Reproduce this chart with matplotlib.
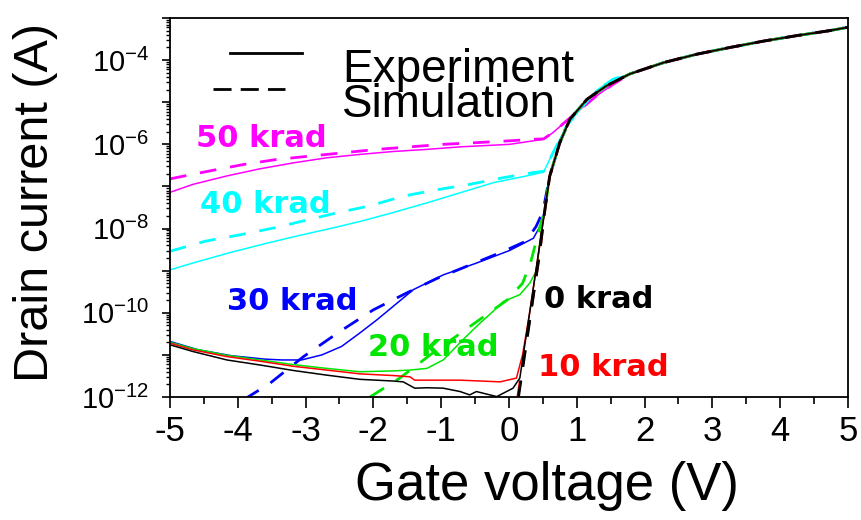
import numpy as np
import matplotlib
matplotlib.use('Agg')
import matplotlib.pyplot as plt
from matplotlib.ticker import MultipleLocator, LogLocator, NullFormatter, FuncFormatter

plt.rcParams['font.family'] = ['Liberation Sans', 'DejaVu Sans']
plt.rcParams['mathtext.fontset'] = 'custom'
plt.rcParams['mathtext.rm'] = 'Liberation Sans'
plt.rcParams['mathtext.it'] = 'Liberation Sans:italic'
plt.rcParams['mathtext.bf'] = 'Liberation Sans:bold'
plt.rcParams['axes.unicode_minus'] = False

# Valores (log10 da corrente de dreno)
# parte comum (estado ligado)
vg_on = np.array([0.53, 0.60, 0.75, 0.90, 1.15, 1.44, 1.78, 2.28, 2.77, 3.26, 3.75, 4.24, 4.73, 5.0])
log_on = np.array([-7.55, -6.76, -5.96, -5.40, -4.93, -4.61, -4.33, -4.06, -3.86, -3.70, -3.55, -3.42, -3.30, -3.22])

# experimento
vg_e0 = [-5, -4.66, -4.16, -3.67, -3.18, -2.69, -2.2, -1.71, -1.56, -1.39, -1.21, -0.97, -0.72, -0.58, -0.48, -0.18, 0.06, 0.16, 0.30, 0.42]
log_e0 = [-10.76, -10.92, -11.12, -11.24, -11.37, -11.48, -11.58, -11.62, -11.64, -11.79, -11.78, -11.79, -11.87, -11.95, -11.87, -11.99, -11.79, -11.55, -10.05, -8.75]

vg_e10 = [-5, -4.66, -4.16, -3.67, -3.18, -2.69, -2.2, -1.71, -1.46, -1.39, -0.72, -0.13, 0.11, 0.20, 0.30, 0.42]
log_e10 = [-10.72, -10.88, -11.04, -11.15, -11.27, -11.36, -11.45, -11.49, -11.52, -11.6, -11.6, -11.64, -11.55, -11.0, -10.05, -8.75]

vg_e20 = [-5, -4.66, -4.16, -3.67, -3.18, -2.69, -2.2, -1.71, -1.46, -1.21, -0.97, -0.63, -0.43, -0.23, -0.08, 0.16, 0.31, 0.41, 0.47]
log_e20 = [-10.7, -10.85, -11.01, -11.12, -11.23, -11.32, -11.4, -11.38, -11.36, -11.32, -11.12, -10.56, -10.25, -9.96, -9.73, -9.57, -9.29, -8.98, -8.1]

vg_e30 = [-5, -4.58, -4.09, -3.6, -3.35, -3.06, -2.76, -2.47, -2.2, -1.95, -1.71, -1.41, -0.97, -0.48, 0.01, 0.36, 0.46, 0.53]
log_e30 = [-10.68, -10.88, -11.02, -11.1, -11.12, -11.12, -11.0, -10.8, -10.48, -10.17, -9.85, -9.45, -9.1, -8.82, -8.52, -8.23, -7.94, -7.55]

vg_e40 = [-5, -4.58, -4.09, -3.6, -3.11, -2.61, -2.17, -1.71, -1.21, -0.72, -0.23, 0.26, 0.51, 0.60, 0.70, 0.85, 1.05, 1.29, 1.54]
log_e40 = [-8.98, -8.78, -8.56, -8.36, -8.17, -7.99, -7.82, -7.62, -7.39, -7.15, -6.91, -6.75, -6.66, -6.36, -6.04, -5.56, -5.17, -4.72, -4.45]

vg_e50 = [-5, -4.66, -4.16, -3.67, -3.18, -2.69, -2.2, -1.71, -1.21, -0.72, 0.01, 0.51, 0.65, 0.85, 1.05, 1.29, 1.54]
log_e50 = [-7.14, -6.95, -6.75, -6.58, -6.44, -6.32, -6.24, -6.17, -6.12, -6.06, -6.0, -5.88, -5.72, -5.44, -5.17, -4.85, -4.57]

# simulacao
vg_s0 = [0.14, 0.30, 0.45]
log_s0 = [-12.0, -10.25, -8.6]

vg_s10 = [0.13, 0.30, 0.45]
log_s10 = [-12.0, -10.2, -8.6]

vg_s20 = [-2.05, -1.61, -1.12, -0.58, -0.03, 0.20, 0.32, 0.45]
log_s20 = [-12.0, -11.55, -10.95, -10.33, -9.7, -9.3, -8.8, -8.0]

vg_s30 = [-3.9, -3.53, -3.03, -2.5, -2.0, -1.51, -1.07, -0.63, -0.08, 0.25, 0.40, 0.50]
log_s30 = [-12.05, -11.68, -11.04, -10.45, -9.93, -9.53, -9.19, -8.9, -8.54, -8.3, -7.95, -7.6]

vg_s40 = [-5, -4.48, -3.94, -3.45, -2.96, -2.52, -2.05, -1.56, -1.07, -0.58, -0.08, 0.36, 0.51, 0.60, 0.70, 0.85, 1.05, 1.29, 1.54]
log_s40 = [-8.54, -8.3, -8.14, -7.98, -7.79, -7.62, -7.46, -7.23, -7.08, -6.95, -6.79, -6.67, -6.64, -6.36, -6.04, -5.56, -5.17, -4.72, -4.45]

vg_s50 = [-5, -4.41, -3.92, -3.43, -2.94, -2.44, -1.95, -1.46, -0.97, -0.48, -0.03, 0.36, 0.51, 0.65, 0.85, 1.05, 1.29, 1.54]
log_s50 = [-6.82, -6.63, -6.48, -6.36, -6.28, -6.2, -6.12, -6.06, -6.0, -5.96, -5.92, -5.88, -5.87, -5.72, -5.44, -5.17, -4.85, -4.57]

doses = ['50 krad', '40 krad', '30 krad', '20 krad', '10 krad', '0 krad']
cores = ['#ff00ff', '#00ffff', '#0000ff', '#00e600', '#ff0000', '#000000']
exp = [(vg_e50, log_e50), (vg_e40, log_e40), (vg_e30, log_e30), (vg_e20, log_e20), (vg_e10, log_e10), (vg_e0, log_e0)]
sim = [(vg_s50, log_s50), (vg_s40, log_s40), (vg_s30, log_s30), (vg_s20, log_s20), (vg_s10, log_s10), (vg_s0, log_s0)]

# posicao dos rotulos (x, log10 I)
rot_x = [-4.62, -4.56, -4.16, -2.08, 0.43, 0.51]
rot_y = [-6.07, -7.62, -9.93, -11.02, -11.5, -9.88]


def junta(v, l):
    # completa a curva com a parte comum do estado ligado
    m = vg_on > v[-1] + 0.05
    return np.concatenate([v, vg_on[m]]), 10.0 ** np.concatenate([l, log_on[m]])


fig = plt.figure(figsize=(8.61, 5.2), dpi=100)
ax = fig.add_axes([0.1974, 0.2365, 0.7875, 0.7289])

for i in range(len(doses)):
    x, y = junta(*sim[i])
    ax.plot(x, y, color=cores[i], lw=2.0, dashes=(6, 5))
    x, y = junta(*exp[i])
    ax.plot(x, y, color=cores[i], lw=1.1)
    ax.text(rot_x[i], 10.0 ** rot_y[i], doses[i], color=cores[i], fontsize=22,
            fontweight='bold', family='DejaVu Sans', va='baseline', ha='left')

ax.set_xlim(-5, 5)
ax.set_ylim(1e-12, 1e-3)
ax.set_yscale('log')

ax.xaxis.set_major_locator(MultipleLocator(1))
ax.xaxis.set_minor_locator(MultipleLocator(0.5))
ax.yaxis.set_major_locator(LogLocator(base=10, numticks=20))
ax.yaxis.set_minor_locator(LogLocator(base=10, subs=np.arange(2, 10), numticks=20))
ax.yaxis.set_minor_formatter(NullFormatter())


def fmt_y(v, pos):
    e = int(round(np.log10(v)))
    if e % 2 == 0:
        return r'$\mathregular{10^{%d}}$' % e
    return ''


ax.yaxis.set_major_formatter(FuncFormatter(fmt_y))
ax.tick_params(axis='x', which='major', labelsize=25, length=8, width=1.2, pad=5, direction='out')
ax.tick_params(axis='x', which='minor', length=5, width=1.2, direction='out')
ax.tick_params(axis='y', which='major', labelsize=21, length=6, width=1.2, pad=9, direction='out')
ax.tick_params(axis='y', which='minor', length=3, width=1.0, direction='out')
for s in ax.spines.values():
    s.set_linewidth(1.3)

ax.set_xlabel('Gate voltage (V)', fontsize=38, va='baseline')
ax.xaxis.set_label_coords(0.556, -0.272)
ax.set_ylabel('Drain current (A)', fontsize=35, va='center')
ax.yaxis.set_label_coords(-0.199, 0.5145)

# legenda
ax.plot([0.0885, 0.195], [0.9077, 0.9077], color='black', lw=2.0, transform=ax.transAxes)
ax.plot([0.0634, 0.1696], [0.8127, 0.8127], color='black', lw=2.0, dashes=(6.5, 3.3), transform=ax.transAxes)
ax.text(0.2537, 0.8311, 'Experiment', fontsize=33, va='baseline', ha='left', transform=ax.transAxes)
ax.text(0.2537, 0.7388, 'Simulation', fontsize=33, va='baseline', ha='left', transform=ax.transAxes)

fig.savefig('out.png', dpi=100)
